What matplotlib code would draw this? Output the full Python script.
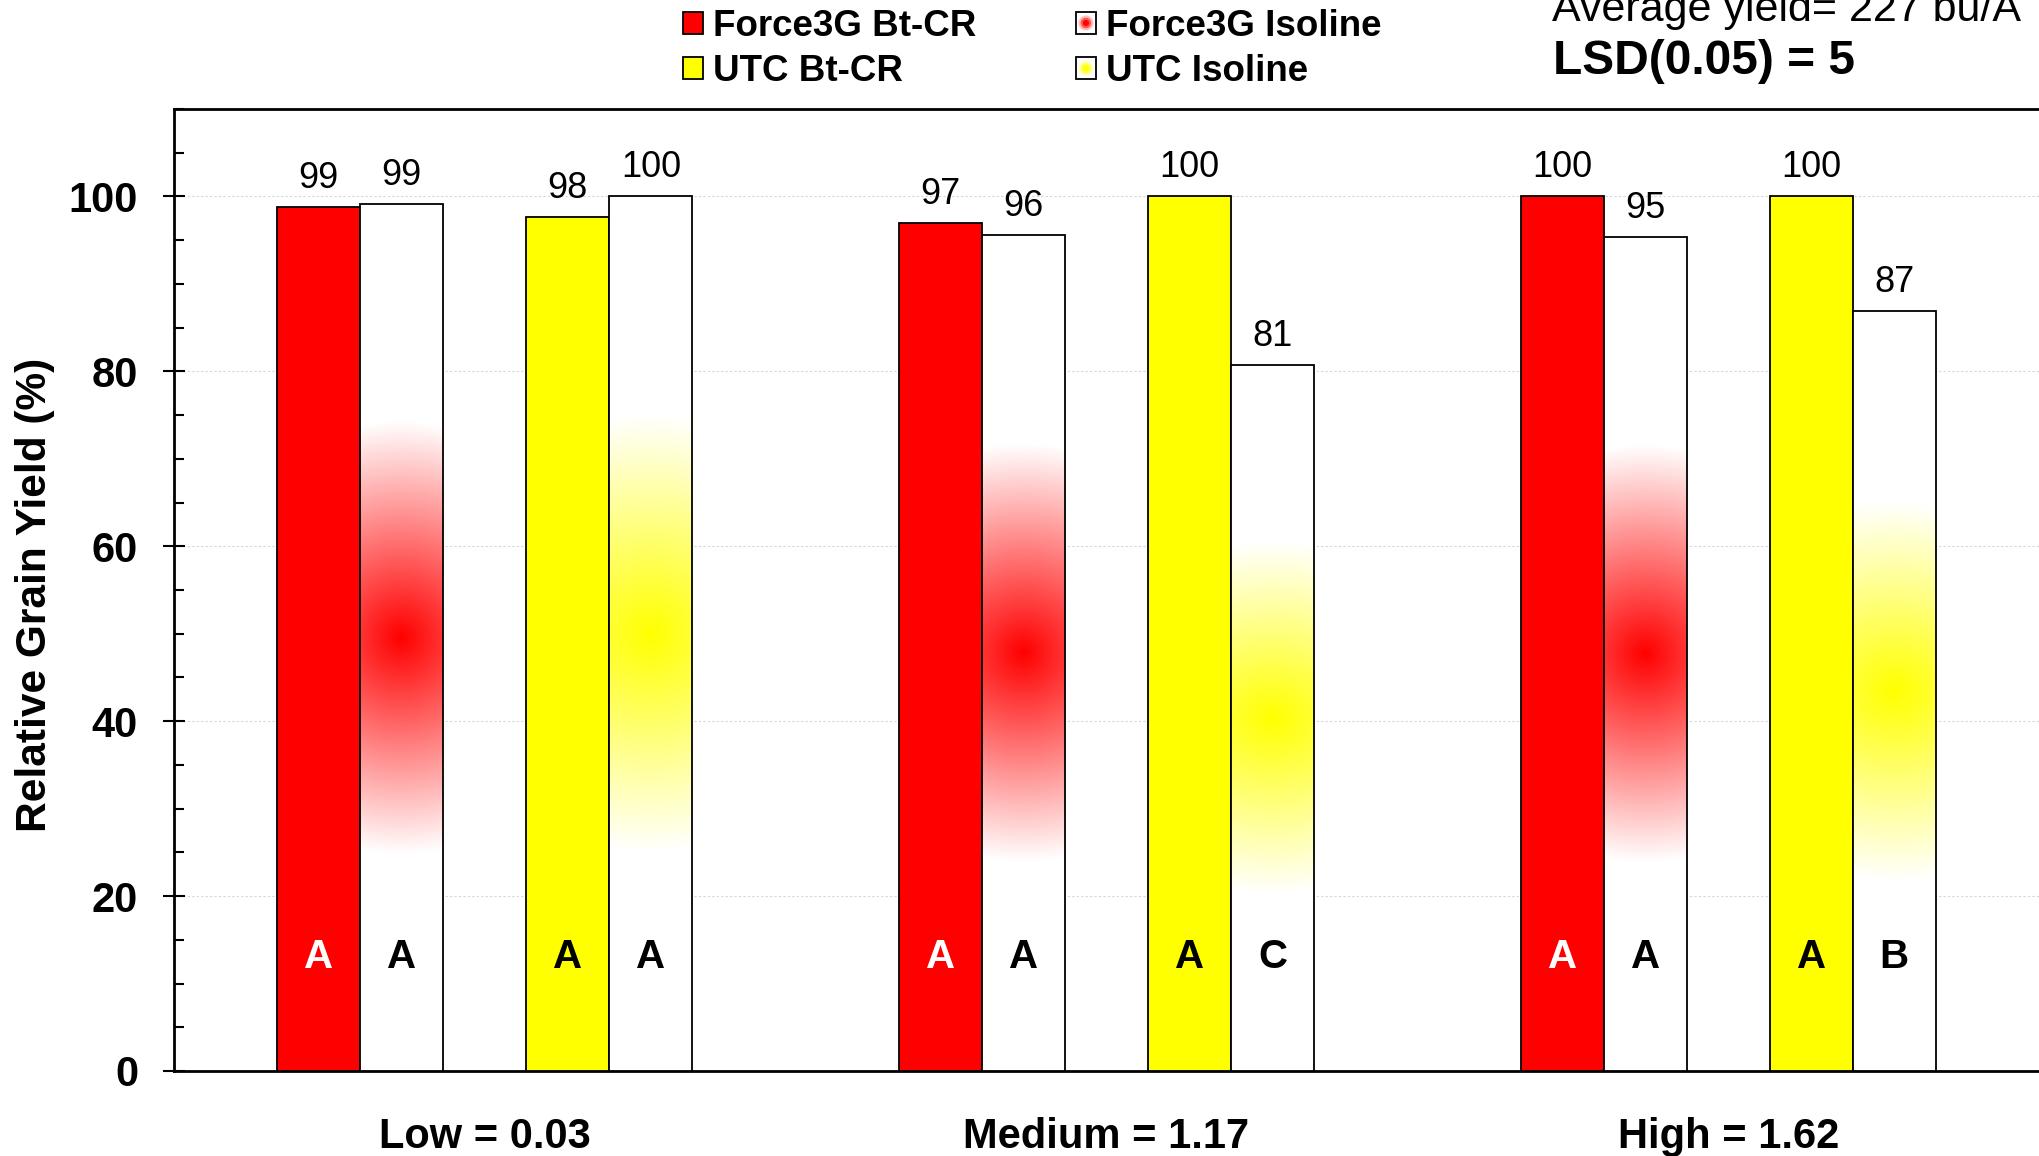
import numpy as np
import matplotlib
matplotlib.use('Agg')
import matplotlib.pyplot as plt
from matplotlib.patches import Rectangle, Circle, Patch
from matplotlib.legend_handler import HandlerBase
from matplotlib.ticker import MultipleLocator
from matplotlib.colors import to_rgb

# ---------------- data ----------------
categories = ['Low = 0.03', 'Medium = 1.17', 'High = 1.62']
series_names = ['Force3G Bt-CR', 'Force3G Isoline', 'UTC Bt-CR', 'UTC Isoline']
force_bt = [98.8, 97.0, 100.0]
force_iso = [99.1, 95.6, 95.4]
utc_bt = [97.6, 100.0, 100.0]
utc_iso = [100.0, 80.7, 86.9]
force_bt_letters = ['A', 'A', 'A']
force_iso_letters = ['A', 'A', 'A']
utc_bt_letters = ['A', 'A', 'A']
utc_iso_letters = ['A', 'C', 'B']
y_ticks = [0, 20, 40, 60, 80, 100]
avg_text = 'Average yield= 227 bu/A'
lsd_text = 'LSD(0.05) = 5'

RED = '#FF0000'
YEL = '#FFFF00'

plt.rcParams['font.family'] = ['Liberation Sans', 'DejaVu Sans']

W, H = 2039, 1156
fig = plt.figure(figsize=(W / 100, H / 100), dpi=100)
ax = fig.add_axes([174 / W, 1 - 1071 / H, 1 - 174 / W, (1071 - 109) / H])

x = np.arange(len(categories))
w = 0.1335
edge_lw = 1.3

b_fbt = ax.bar(x - 2 * w, force_bt, w, facecolor=RED, edgecolor='black', linewidth=edge_lw, zorder=3)
b_fiso = ax.bar(x - w, force_iso, w, facecolor='none', edgecolor='black', linewidth=edge_lw, zorder=4)
b_ubt = ax.bar(x + w, utc_bt, w, facecolor=YEL, edgecolor='black', linewidth=edge_lw, zorder=3)
b_uiso = ax.bar(x + 2 * w, utc_iso, w, facecolor='none', edgecolor='black', linewidth=edge_lw, zorder=4)


def gradient_fill(bars, color):
    c = np.array(to_rgb(color))
    for rect in bars:
        x0 = rect.get_x()
        wd = rect.get_width()
        h = rect.get_height()
        ny, nx = 500, 80
        yy = np.linspace(0, h, ny)
        uu = np.linspace(-1, 1, nx)
        U, Y = np.meshgrid(uu, yy)
        r = np.sqrt((0.2 * U) ** 2 + ((Y - h / 2) / (h / 4)) ** 2)
        f = np.clip(1 - r, 0, 1)
        rgb = 1 - f[..., None] * (1 - c)
        ax.imshow(rgb, extent=[x0, x0 + wd, 0, h], origin='lower',
                  aspect='auto', zorder=3, interpolation='bilinear')


gradient_fill(b_fiso, RED)
gradient_fill(b_uiso, YEL)

ax.set_xlim(-0.5, 2.5)
ax.set_ylim(0, 110)

# value labels
for b in (b_fbt, b_fiso, b_ubt, b_uiso):
    ax.bar_label(b, fmt='%.0f', padding=8, fontsize=26)

# significance letters
for b, letters, col in ((b_fbt, force_bt_letters, 'white'),
                        (b_fiso, force_iso_letters, 'black'),
                        (b_ubt, utc_bt_letters, 'black'),
                        (b_uiso, utc_iso_letters, 'black')):
    for rect, lt in zip(b, letters):
        ax.text(rect.get_x() + rect.get_width() / 2, 13.0, lt, ha='center', va='center',
                fontsize=29, fontweight='bold', color=col, zorder=6)

# axes styling
ax.set_yticks(y_ticks)
ax.yaxis.set_minor_locator(MultipleLocator(5))
ax.tick_params(axis='y', which='major', direction='inout', length=15.8, width=1.5,
               labelsize=30, pad=18)
ax.tick_params(axis='y', which='minor', direction='in', length=7.2, width=1.5)
for lbl in ax.get_yticklabels():
    lbl.set_fontweight('bold')
ax.set_xticks(x, categories, fontsize=30, fontweight='bold')
ax.tick_params(axis='x', length=0, pad=33)

ax.yaxis.grid(True, which='major', color='#d6d6d6', linestyle=(0, (2, 2)), linewidth=0.8)
ax.set_axisbelow(True)

ax.spines['right'].set_visible(False)
for s in ('left', 'bottom', 'top'):
    ax.spines[s].set_linewidth(2.0)

ax.set_ylabel('Relative Grain Yield (%)', fontsize=30.5, fontweight='bold')
ax.yaxis.set_label_coords(-0.0638, 0.495)


# legend
class IsoHandler(HandlerBase):
    def __init__(self, color):
        super().__init__()
        self.color = color

    def create_artists(self, legend, orig_handle, xdescent, ydescent, width, height,
                       fontsize, trans):
        x0, y0 = -xdescent, -ydescent
        rect = Rectangle((x0, y0), width, height, facecolor='white', edgecolor='black',
                         linewidth=edge_lw, transform=trans)
        cx, cy = x0 + width / 2, y0 + height / 2
        arts = [rect]
        for rad, al in ((0.34, 0.25), (0.24, 0.55), (0.14, 0.95)):
            arts.append(Circle((cx, cy), rad * height, facecolor=self.color, edgecolor='none',
                               alpha=al, transform=trans))
        return arts


h_fbt = Patch(facecolor=RED, edgecolor='black', linewidth=edge_lw)
h_ubt = Patch(facecolor=YEL, edgecolor='black', linewidth=edge_lw)
h_fiso = Patch(facecolor='white', edgecolor='black')
h_uiso = Patch(facecolor='white', edgecolor='black')
fig.legend([h_fbt, h_ubt, h_fiso, h_uiso],
           [series_names[0], series_names[2], series_names[1], series_names[3]],
           handler_map={h_fiso: IsoHandler(RED), h_uiso: IsoHandler(YEL)},
           loc='upper left', bbox_to_anchor=(683 / W, 1 - 9 / H), ncol=2, frameon=False,
           prop=dict(weight='bold', size=26.5), handlelength=0.55, handleheight=0.55,
           handletextpad=0.27, columnspacing=2.7, labelspacing=0.28,
           borderpad=0, borderaxespad=0)

fig.text(1552 / W, 1 - 21 / H, avg_text, fontsize=31, va='baseline', ha='left')
fig.text(1553 / W, 1 - 74.5 / H, lsd_text, fontsize=34.5, fontweight='bold', va='baseline', ha='left')

fig.savefig('out.png', dpi=100)
